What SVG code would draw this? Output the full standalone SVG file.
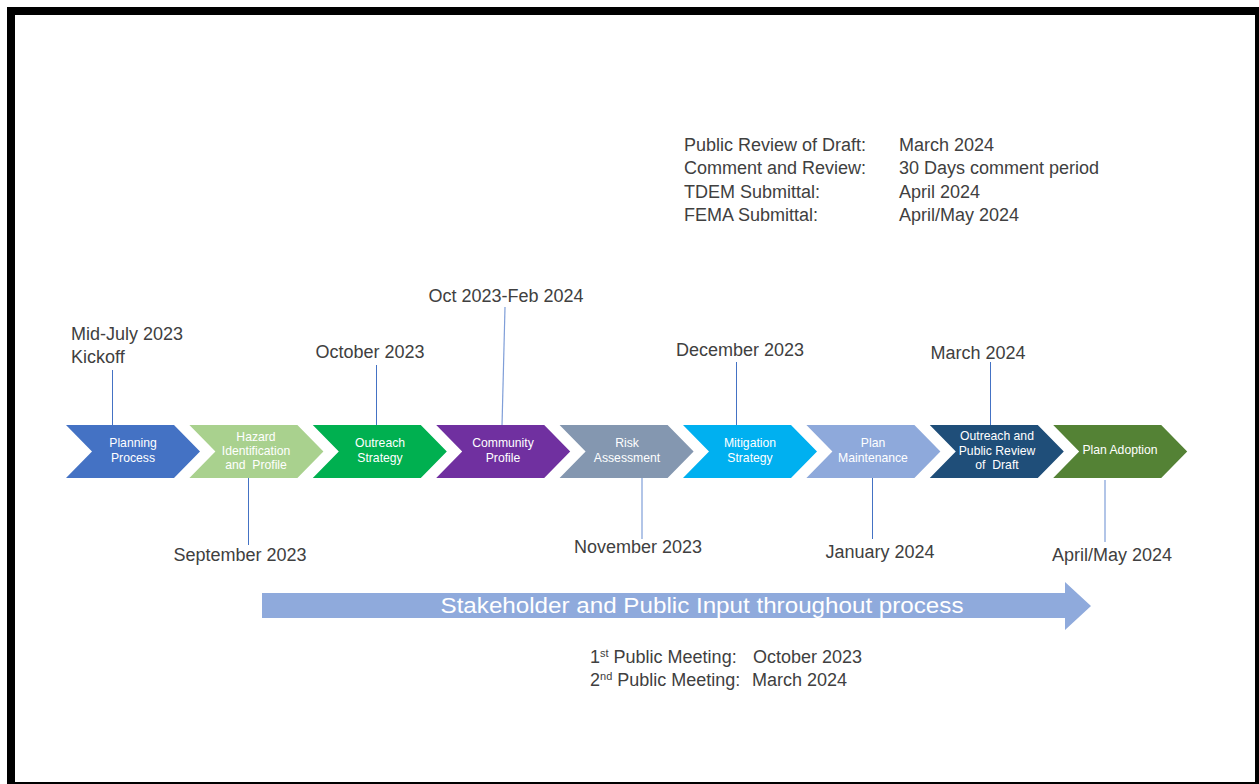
<svg xmlns="http://www.w3.org/2000/svg" width="1259" height="784" viewBox="0 0 1259 784">
<style>
.lbl{font-family:"Liberation Sans",Arial,sans-serif;font-size:18px;fill:#404040}
.mid{text-anchor:middle}
.ct{font-family:"Liberation Sans",Arial,sans-serif;font-size:12.2px;fill:#ffffff;text-anchor:middle}
.con{stroke:#4472C4;stroke-width:1;fill:none}
.con2{stroke:#7F9ED8;stroke-width:1.2;fill:none}
</style>
<defs>
<path id="chev" d="M0,425 L108,425 L134,451.5 L108,478 L0,478 L26,451.5 Z"/>
</defs>
<rect x="0" y="0" width="1259" height="784" fill="#ffffff"/>
<rect x="11" y="11" width="1248" height="775" fill="none" stroke="#000000" stroke-width="8"/>

<g id="connectors">
<line class="con" x1="112.5" y1="370" x2="112.5" y2="426"/>
<line class="con" x1="248.5" y1="477" x2="248.5" y2="545"/>
<line class="con" x1="376.5" y1="365" x2="376.5" y2="426"/>
<line class="con2" x1="505" y1="307" x2="502" y2="426"/>
<line class="con2" x1="642" y1="477" x2="642" y2="539"/>
<line class="con" x1="736.5" y1="362" x2="736.5" y2="426"/>
<line class="con" x1="872.5" y1="477" x2="872.5" y2="539"/>
<line class="con" x1="990.5" y1="362" x2="990.5" y2="426"/>
<line class="con2" x1="1105" y1="480" x2="1105" y2="542"/>
</g>

<g id="planning-process">
<use href="#chev" x="66" fill="#4472C4"/>
<text class="ct" x="133" y="447">Planning</text>
<text class="ct" x="133" y="462">Process</text>
<text class="lbl" x="71" y="340">Mid-July 2023</text>
<text class="lbl" x="71" y="363">Kickoff</text>
</g>

<g id="hazard-identification">
<use href="#chev" x="189.4" fill="#A9D18E"/>
<text class="ct" x="256" y="441">Hazard</text>
<text class="ct" x="256" y="455">Identification</text>
<text class="ct" x="256" y="469" xml:space="preserve">and  Profile</text>
<text class="lbl mid" x="240" y="561">September 2023</text>
</g>

<g id="outreach-strategy">
<use href="#chev" x="312.8" fill="#00B050"/>
<text class="ct" x="380" y="447">Outreach</text>
<text class="ct" x="380" y="462">Strategy</text>
<text class="lbl mid" x="370" y="358">October 2023</text>
</g>

<g id="community-profile">
<use href="#chev" x="436.2" fill="#7030A0"/>
<text class="ct" x="503" y="447">Community</text>
<text class="ct" x="503" y="462">Profile</text>
<text class="lbl mid" x="506" y="302">Oct 2023-Feb 2024</text>
</g>

<g id="risk-assessment">
<use href="#chev" x="559.6" fill="#8497B0"/>
<text class="ct" x="627" y="447">Risk</text>
<text class="ct" x="627" y="462">Assessment</text>
<text class="lbl mid" x="638" y="553">November 2023</text>
</g>

<g id="mitigation-strategy">
<use href="#chev" x="683" fill="#00B0F0"/>
<text class="ct" x="750" y="447">Mitigation</text>
<text class="ct" x="750" y="462">Strategy</text>
<text class="lbl mid" x="740" y="356">December 2023</text>
</g>

<g id="plan-maintenance">
<use href="#chev" x="806.4" fill="#8EA9DB"/>
<text class="ct" x="873" y="447">Plan</text>
<text class="ct" x="873" y="462">Maintenance</text>
<text class="lbl mid" x="880" y="558">January 2024</text>
</g>

<g id="outreach-public-review">
<use href="#chev" x="929.8" fill="#1F4E79"/>
<text class="ct" x="997" y="440">Outreach and</text>
<text class="ct" x="997" y="455">Public Review</text>
<text class="ct" x="997" y="469" xml:space="preserve">of  Draft</text>
<text class="lbl mid" x="978" y="359">March 2024</text>
</g>

<g id="plan-adoption">
<use href="#chev" x="1053.2" fill="#548235"/>
<text class="ct" x="1120" y="454">Plan Adoption</text>
<text class="lbl mid" x="1112" y="561">April/May 2024</text>
</g>

<g id="stakeholder-arrow">
<path d="M262,593 L1065,593 L1065,582 L1091,606 L1065,630 L1065,618 L262,618 Z" fill="#8FAADC"/>
<text x="702" y="613" font-family="'Liberation Sans',Arial,sans-serif" font-size="22" fill="#ffffff" text-anchor="middle" textLength="523" lengthAdjust="spacingAndGlyphs">Stakeholder and Public Input throughout process</text>
</g>

<g id="review-schedule">
<text class="lbl" x="684" y="151">Public Review of Draft:</text>
<text class="lbl" x="899" y="151">March 2024</text>
<text class="lbl" x="684" y="174">Comment and Review:</text>
<text class="lbl" x="899" y="174">30 Days comment period</text>
<text class="lbl" x="684" y="198">TDEM Submittal:</text>
<text class="lbl" x="899" y="198">April 2024</text>
<text class="lbl" x="684" y="221">FEMA Submittal:</text>
<text class="lbl" x="899" y="221">April/May 2024</text>
</g>

<g id="public-meetings">
<text class="lbl" x="590" y="663">1<tspan font-size="11" dy="-6">st</tspan><tspan dy="6"> Public Meeting:</tspan></text>
<text class="lbl" x="753" y="663">October 2023</text>
<text class="lbl" x="590" y="686">2<tspan font-size="11" dy="-6">nd</tspan><tspan dy="6"> Public Meeting:</tspan></text>
<text class="lbl" x="752" y="686">March 2024</text>
</g>
</svg>
